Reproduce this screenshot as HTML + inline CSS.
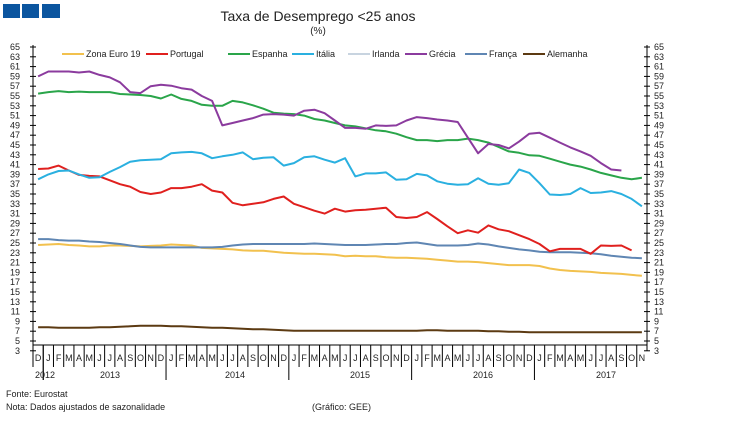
<!DOCTYPE html>
<html><head><meta charset="utf-8"><style>
body{margin:0;background:#fff;width:750px;height:418px;overflow:hidden;font-family:"Liberation Sans",sans-serif}
</style></head><body>
<svg id="s" width="750" height="418" xmlns="http://www.w3.org/2000/svg" font-family="Liberation Sans, sans-serif">
<rect x="3" y="4" width="17" height="14" fill="#0b559f"/>
<rect x="22" y="4" width="17" height="14" fill="#0b559f"/>
<rect x="42" y="4" width="18" height="14" fill="#0b559f"/>
<text x="318" y="21" font-size="14" text-anchor="middle" fill="#222">Taxa de Desemprego &lt;25 anos</text>
<text x="318" y="34" font-size="10" text-anchor="middle" fill="#222">(%)</text>
<g id="g"></g>
<text x="6" y="397" font-size="9" fill="#222">Fonte: Eurostat</text>
<text x="6" y="410" font-size="9" fill="#222">Nota: Dados ajustados de sazonalidade</text>
<text x="312" y="410" font-size="9" fill="#222">(Gráfico: GEE)</text>
</svg>
<script>
var g=document.getElementById('g'),h='';
var X0=33,X1=647,W=(X1-X0)/60;
function Y(v){return 47+(65-v)*4.9;}
h+='<line x1="'+X0+'" y1="45" x2="'+X0+'" y2="351" stroke="#000"/>';
h+='<line x1="'+X1+'" y1="45" x2="'+X1+'" y2="351" stroke="#000"/>';
h+='<line x1="'+X0+'" y1="345" x2="'+X1+'" y2="345" stroke="#000"/>';
for(var v=3;v<=65;v+=2){var y=Y(v);
h+='<line x1="'+(X0-3)+'" y1="'+y+'" x2="'+(X0+3)+'" y2="'+y+'" stroke="#000"/>';
h+='<line x1="'+(X1-3)+'" y1="'+y+'" x2="'+(X1+3)+'" y2="'+y+'" stroke="#000"/>';
h+='<text x="20" y="'+(y+3)+'" font-size="9" text-anchor="end" fill="#222">'+v+'</text>';
h+='<text x="654" y="'+(y+3)+'" font-size="9" fill="#222">'+v+'</text>';}
var m="DJFMAMJJASON".split('');
for(var i=0;i<60;i++){var x=X0+i*W;
h+='<text x="'+(x+W/2)+'" y="361" font-size="9" text-anchor="middle" fill="#222">'+m[i%12]+'</text>';
var yr=(i%12==1);
h+='<line x1="'+x+'" y1="345" x2="'+x+'" y2="'+(yr?380:367)+'" stroke="#000"/>';}
h+='<line x1="'+(X0+W)+'" y1="345" x2="'+(X0+W)+'" y2="380" stroke="#000"/>';
var yl=[[35,"2012"],[100,"2013"],[225,"2014"],[350,"2015"],[473,"2016"],[596,"2017"]];
yl.forEach(function(a){h+='<text x="'+a[0]+'" y="378" font-size="9" fill="#222">'+a[1]+'</text>';});
var S={
"#8b3b9e":[59,60,60,60,59.8,60,59.3,58.8,57.8,55.8,55.6,57,57.3,57.1,56.6,56.3,55,54,49,49.5,50,50.5,51.2,51.3,51.2,51,52,52.2,51.5,50,48.5,48.5,48.3,49,48.9,49,50,50.7,50.5,50.2,50,49.7,46.5,43.3,45.2,45,44.3,45.7,47.3,47.5,46.5,45.5,44.5,43.7,42.8,41.3,40,39.8],
"#2aa54a":[55.5,55.8,56,55.8,55.9,55.8,55.8,55.8,55.4,55.3,55.2,55,54.5,55.3,54.4,54,53.2,53,53,54,53.7,53.1,52.4,51.6,51.4,51.3,51,50.3,50,49.5,49,48.8,48.4,48,47.8,47.3,46.6,46,46,45.8,46,46,46.3,46,45.5,44.6,43.7,43.4,42.9,42.8,42.2,41.6,41,40.6,40,39.3,38.8,38.3,38,38.3,38],
"#2ab0e0":[38,39,39.7,39.8,39,38.3,38.4,39.5,40.5,41.6,41.9,42,42.1,43.3,43.5,43.6,43.3,42.3,42.7,43,43.5,42.1,42.4,42.5,40.8,41.3,42.5,42.7,42,41.4,42.3,38.6,39.2,39.2,39.4,37.9,38,39.1,38.8,37.6,37.1,36.9,37,38.2,37.1,36.9,37.2,40,39.3,37.2,34.9,34.8,35,36.2,35.2,35.3,35.6,35,34,32.5],
"#e0201e":[40.1,40.2,40.8,39.8,38.9,38.7,38.6,37.8,37,36.5,35.4,35,35.3,36.2,36.2,36.5,37,35.7,35.3,33.2,32.7,33,33.3,34,34.5,33,32.3,31.6,31,32,31.4,31.7,31.8,32,32.2,30.3,30.1,30.3,31.3,29.9,28.4,27,27.6,27.1,28.6,27.8,27.4,26.6,25.8,24.8,23.3,23.8,23.8,23.8,22.8,24.5,24.4,24.5,23.5],
"#5f86b3":[25.8,25.8,25.6,25.5,25.5,25.3,25.2,25,24.8,24.5,24.2,24.1,24.1,24.1,24.1,24.1,24.1,24.1,24.2,24.5,24.7,24.8,24.8,24.8,24.8,24.8,24.8,24.9,24.8,24.7,24.6,24.6,24.6,24.7,24.8,24.8,25,25.1,24.8,24.5,24.5,24.5,24.6,24.9,24.7,24.3,24,23.7,23.5,23.2,23.1,23.1,23.1,23,22.9,22.7,22.4,22.2,22,21.9,21.8],
"#f2c14e":[24.6,24.7,24.8,24.6,24.5,24.3,24.3,24.5,24.5,24.4,24.3,24.4,24.5,24.7,24.6,24.5,24,23.9,23.8,23.7,23.5,23.4,23.4,23.2,23,22.9,22.8,22.8,22.7,22.6,22.3,22.4,22.3,22.3,22.1,22,22,21.9,21.8,21.6,21.4,21.2,21.2,21.1,20.9,20.7,20.5,20.5,20.5,20.3,19.8,19.5,19.3,19.2,19.1,18.9,18.8,18.7,18.5,18.3,18.1],
"#5c3a12":[7.8,7.8,7.7,7.7,7.7,7.7,7.8,7.8,7.9,8,8.1,8.1,8.1,8,8,7.9,7.8,7.7,7.7,7.6,7.5,7.4,7.4,7.3,7.2,7.1,7.1,7.1,7.1,7.1,7.1,7.1,7.1,7.1,7.1,7.1,7.1,7.1,7.2,7.2,7.1,7.1,7.1,7.1,7,7,6.9,6.9,6.8,6.8,6.8,6.8,6.8,6.8,6.8,6.8,6.8,6.8,6.8,6.8]
};
var order=["#5c3a12","#f2c14e","#5f86b3","#e0201e","#2ab0e0","#2aa54a","#8b3b9e"];
order.forEach(function(c){var d=S[c],p=[];for(var i=0;i<d.length&&i<60;i++)p.push((X0+W/2+i*W).toFixed(1)+','+Y(d[i]).toFixed(1));
h+='<polyline points="'+p.join(' ')+'" fill="none" stroke="'+c+'" stroke-width="2" stroke-linejoin="round"/>';});
var L=[[62,"#f2c14e","Zona Euro 19"],[146,"#e0201e","Portugal"],[228,"#2aa54a","Espanha"],[292,"#2ab0e0","Itália"],[348,"#c8d4e0","Irlanda"],[405,"#8b3b9e","Grécia"],[465,"#5f86b3","França"],[523,"#5c3a12","Alemanha"]];
L.forEach(function(a){h+='<line x1="'+a[0]+'" y1="54" x2="'+(a[0]+22)+'" y2="54" stroke="'+a[1]+'" stroke-width="2"/><text x="'+(a[0]+24)+'" y="57" font-size="9" fill="#222">'+a[2]+'</text>';});
g.innerHTML=h;
</script>
</body></html>
